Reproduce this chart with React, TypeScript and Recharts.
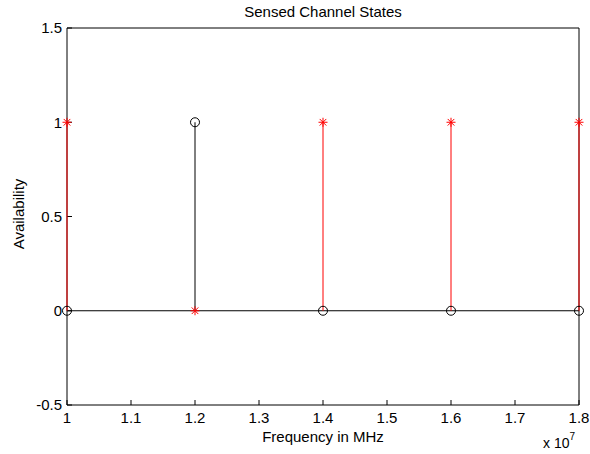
import React from 'react';
import { ComposedChart, XAxis, YAxis, Line, Scatter, ReferenceLine } from 'recharts';

const frequencies = [1.0e7, 1.2e7, 1.4e7, 1.6e7, 1.8e7];
const redStates = [1, 0, 1, 1, 1];
const blackStates = [0, 1, 0, 0, 0];
const xTicks = [1.0e7, 1.1e7, 1.2e7, 1.3e7, 1.4e7, 1.5e7, 1.6e7, 1.7e7, 1.8e7];
const yTicks = [-0.5, 0, 0.5, 1, 1.5];
const titleText = 'Sensed Channel States';
const xLabelText = 'Frequency in MHz';
const yLabelText = 'Availability';

const FONT = '"Liberation Sans", Arial, Helvetica, sans-serif';
const W = 590;
const H = 454;

const redPoints = frequencies.map((f, i) => ({ f, v: redStates[i] }));
const blackPoints = frequencies.map((f, i) => ({ f, v: blackStates[i] }));
const redStems = redPoints.filter((p) => p.v !== 0).map((p) => [{ f: p.f, v: 0 }, { f: p.f, v: p.v }]);
const blackStems = blackPoints.filter((p) => p.v !== 0).map((p) => [{ f: p.f, v: 0 }, { f: p.f, v: p.v }]);

const Asterisk = (props: any) => {
  const { cx, cy } = props;
  if (cx == null || cy == null) return null;
  const s = 4.5;
  const d = 3.3;
  return (
    <g stroke="#ff0000" strokeWidth={1} fill="none">
      <line x1={cx - s} y1={cy} x2={cx + s} y2={cy} />
      <line x1={cx} y1={cy - s} x2={cx} y2={cy + s} />
      <line x1={cx - d} y1={cy - d} x2={cx + d} y2={cy + d} />
      <line x1={cx - d} y1={cy + d} x2={cx + d} y2={cy - d} />
    </g>
  );
};

const Circle = (props: any) => {
  const { cx, cy } = props;
  if (cx == null || cy == null) return null;
  return <circle cx={cx} cy={cy} r={4.5} stroke="#000" strokeWidth={1} fill="none" />;
};

const tickStyle = { fontSize: 15, fontFamily: FONT, fill: '#000' };

export default function App() {
  return (
    <div style={{ position: 'absolute', left: 0, top: 0, width: W, height: H, background: '#fff' }}>
      <ComposedChart width={W} height={H} margin={{ top: 0, right: 0, bottom: 0, left: 0 }}>
        <XAxis
          xAxisId={0}
          dataKey="f"
          type="number"
          domain={[1.0e7, 1.8e7]}
          ticks={xTicks}
          orientation="bottom"
          height={49}
          tickSize={-5}
          tickMargin={12}
          stroke="#000"
          tickLine={{ stroke: '#000' }}
          axisLine={{ stroke: '#000' }}
          tick={tickStyle}
          tickFormatter={(v: number) => String(Math.round(v / 1e5) / 100)}
          interval={0}
        />
        <XAxis
          xAxisId="top"
          dataKey="f"
          type="number"
          domain={[1.0e7, 1.8e7]}
          ticks={xTicks}
          orientation="top"
          height={28}
          tickSize={-5}
          stroke="#000"
          tickLine={{ stroke: '#000' }}
          axisLine={{ stroke: '#000' }}
          tickFormatter={() => ''}
          interval={0}
        />
        <YAxis
          yAxisId={0}
          type="number"
          domain={[-0.5, 1.5]}
          ticks={yTicks}
          orientation="left"
          width={67}
          tickSize={-5}
          tickMargin={10}
          stroke="#000"
          tickLine={{ stroke: '#000' }}
          axisLine={{ stroke: '#000' }}
          tick={tickStyle}
          tickFormatter={(v: number) => String(v)}
          interval={0}
        />
        <YAxis
          yAxisId="right"
          type="number"
          domain={[-0.5, 1.5]}
          ticks={yTicks}
          orientation="right"
          width={11}
          tickSize={-5}
          stroke="#000"
          tickLine={{ stroke: '#000' }}
          axisLine={{ stroke: '#000' }}
          tickFormatter={() => ''}
          interval={0}
        />
        <ReferenceLine y={0} stroke="#000" strokeWidth={1} />
        {blackStems.map((d, i) => (
          <Line
            key={'b' + i}
            data={d}
            dataKey="v"
            stroke="#000"
            strokeWidth={1}
            dot={false}
            activeDot={false}
            isAnimationActive={false}
            type="linear"
            {...({ zIndex: 550 } as any)}
          />
        ))}
        {redStems.map((d, i) => (
          <Line
            key={'r' + i}
            data={d}
            dataKey="v"
            stroke="#ff0000"
            strokeWidth={1}
            dot={false}
            activeDot={false}
            isAnimationActive={false}
            type="linear"
            {...({ zIndex: 560 } as any)}
          />
        ))}
        <Scatter data={blackPoints} dataKey="v" shape={<Circle />} isAnimationActive={false} />
        <Scatter data={redPoints} dataKey="v" shape={<Asterisk />} isAnimationActive={false} />
      </ComposedChart>
      <svg
        width={W}
        height={H}
        style={{ position: 'absolute', left: 0, top: 0, pointerEvents: 'none' }}
        fontFamily={FONT}
      >
        <text x={323} y={17} fontSize={15} textAnchor="middle" fill="#000">
          {titleText}
        </text>
        <text x={323} y={442} fontSize={15} textAnchor="middle" fill="#000">
          {xLabelText}
        </text>
        <text x={24} y={214} fontSize={15} textAnchor="middle" fill="#000" transform="rotate(-90 24 214)">
          {yLabelText}
        </text>
        <text x={543} y={448} fontSize={14} fill="#000">
          x 10<tspan fontSize={10} dy={-8}>7</tspan>
        </text>
      </svg>
    </div>
  );
}
